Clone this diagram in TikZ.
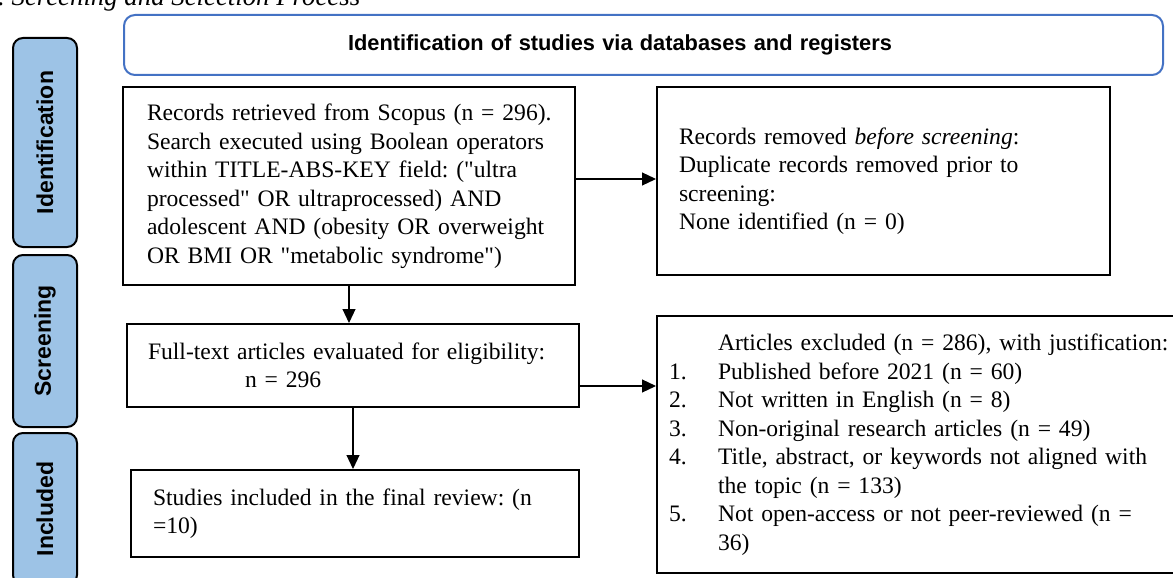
\documentclass[tikz,border=0pt]{standalone}
\usepackage{fontspec}
\setmainfont{Liberation Serif}
\setsansfont{Liberation Sans}
\usepackage{tikz}
\usetikzlibrary{arrows.meta,positioning,calc}
\definecolor{phasec}{HTML}{9DC3E6}
\definecolor{headc}{HTML}{4472C4}
\frenchspacing
\newcommand{\exitem}[1]{\makebox[49pt][l]{#1}}
\newcommand{\indnt}[1]{\leftskip=#1\relax}
\newcommand{\qq}{\textquotedbl}
\tikzset{
  ar/.style={-{Triangle[length=14pt,width=13pt]},line width=1.2pt,black},
  box/.style={draw=black,line width=2pt,align=left,inner xsep=0pt,inner ysep=0pt,font=\fontsize{23.6}{28.5}\selectfont},
  phase/.style={draw=black,line width=2pt,fill=phasec,rounded corners=10pt,rotate=90,minimum height=64pt,inner sep=0pt,font=\sffamily\bfseries\fontsize{23}{27}\selectfont},
  head/.style={draw=headc,line width=2pt,rounded corners=11pt,minimum height=60pt,align=left,font=\sffamily\bfseries\fontsize{21.8}{26}\selectfont}
}
\begin{document}
\begin{tikzpicture}[x=1pt,y=-1pt]
\useasboundingbox (0,0) rectangle (1173,578);
% caption, cut by the top edge
\node[anchor=base west,inner sep=0pt,font=\itshape\fontsize{26.8}{30}\selectfont] (cap) at (-2,6) {. Screening and Selection Process};
% phases
\node[phase,minimum width=209pt] (ident) at (45,142.5) {Identification};
\node[phase,minimum width=172pt] (screen) at (45,341) {Screening};
\node[phase,minimum width=152pt] (incl) at (45,509) {Included};
% header
\node[head,text width=591pt,inner xsep=224pt] (head) at (643.5,45) {Identification of studies via databases and registers};
% flow boxes
\node[box,text width=452pt,minimum height=198pt] (records) at (349,186) {\indnt{24pt}Records retrieved from Scopus (n = 296).\\ Search executed using Boolean operators\\ within TITLE-ABS-KEY field: (\qq ultra\\ processed\qq{} OR ultraprocessed) AND\\ adolescent AND (obesity OR overweight\\ OR BMI OR \qq metabolic syndrome\qq)\par};
\node[box,text width=453pt,minimum height=188pt] (removed) at (883.5,181) {\indnt{22pt}Records removed \textit{before screening}:\\ Duplicate records removed prior to\\ screening:\\ None identified (n = 0)\par};
\node[box,text width=452pt,minimum height=83pt] (fulltext) at (353,365.5) {\indnt{21pt}Full-text articles evaluated for eligibility:\\ \hspace*{97pt}n = 296\par};
\node[box,text width=448pt,minimum height=87pt] (included) at (355,513.5) {\indnt{22pt}Studies included in the final review: (n\\ =10)\par};
\node[box,text width=540pt,minimum height=257pt] (excluded) at (927,444.5) {\indnt{12pt}\hspace*{49pt}Articles excluded (n = 286), with justification:\\
\exitem{1.}Published before 2021 (n = 60)\\
\exitem{2.}Not written in English (n = 8)\\
\exitem{3.}Non-original research articles (n = 49)\\
\exitem{4.}Title, abstract, or keywords not aligned with\\
\hspace*{49pt}the topic (n = 133)\\
\exitem{5.}Not open-access or not peer-reviewed (n =\\
\hspace*{49pt}36)\par};
% arrows
\draw[ar] ([yshift=7pt]records.east) -- ([yshift=7pt]records.east -| removed.west);
\draw[ar] (records.south) -- (records.south |- fulltext.north);
\draw[ar] ([yshift=-20.5pt]fulltext.east) -- ([yshift=-20.5pt]fulltext.east -| excluded.west);
\draw[ar] (fulltext.south) -- (fulltext.south |- included.north);
\end{tikzpicture}
\end{document}
